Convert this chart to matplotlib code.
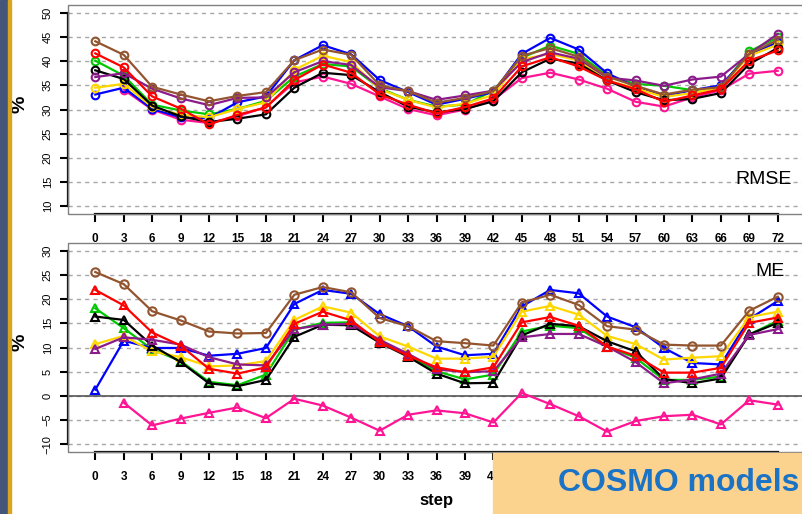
import matplotlib.pyplot as plt
import matplotlib.patches as mpatches
import numpy as np

plt.rcParams['font.family'] = ['Liberation Sans', 'DejaVu Sans']

steps = list(range(0, 73, 3))
nan = np.nan

# RMSE (%)
black_rmse = [38.1, 36.3, 30.8, 28.6, 27.4, 28.1, 29.0, 34.5, 37.6, 37.1, 33.6, 30.6, 29.4, 30.1, 31.7, 37.7, 40.5, 39.5, 36.0, 33.6, 31.9, 32.2, 33.4, 39.4, 42.7]
red_rmse = [41.6, 38.7, 32.7, 30.2, 26.9, 28.9, 30.4, 36.1, 39.3, 37.6, 33.1, 31.0, 29.2, 30.5, 32.3, 38.9, 40.8, 38.9, 36.0, 34.2, 31.6, 32.9, 34.2, 40.1, 42.2]
green_rmse = [40.1, 37.0, 31.0, 29.8, 29.0, 30.1, 31.8, 36.8, 39.4, 38.9, 34.4, 32.0, 30.6, 31.0, 33.9, 40.7, 43.2, 41.5, 37.0, 35.3, 34.9, 34.0, 34.6, 42.0, 44.9]
blue_rmse = [33.1, 34.5, 30.1, 28.4, 28.2, 31.5, 32.7, 40.2, 43.3, 41.4, 36.1, 33.6, 31.0, 32.2, 33.6, 41.5, 44.8, 42.4, 37.5, 34.7, 32.8, 34.0, 35.0, 41.3, 43.9]
yellow_rmse = [34.5, 35.3, 30.5, 28.9, 28.4, 30.1, 31.5, 38.2, 41.1, 39.8, 34.2, 32.0, 30.4, 31.2, 33.0, 40.4, 41.5, 40.1, 36.0, 34.4, 32.6, 33.4, 34.6, 41.1, 43.4]
purple_rmse = [36.7, 37.5, 34.3, 32.3, 30.9, 32.4, 32.5, 37.7, 40.0, 39.2, 34.6, 33.8, 32.0, 32.9, 33.9, 39.8, 41.8, 40.5, 36.6, 36.0, 34.9, 36.2, 36.8, 41.5, 45.6]
brown_rmse = [44.1, 41.3, 34.7, 33.1, 31.7, 32.8, 33.6, 40.2, 42.4, 41.3, 35.0, 33.8, 31.4, 32.4, 33.8, 41.1, 42.7, 40.9, 36.8, 34.9, 33.1, 34.1, 34.6, 41.5, 44.4]
pink_rmse = [nan, 34.1, 30.0, 27.9, 27.2, 28.6, 30.5, 35.6, 36.8, 35.3, 32.7, 30.1, 28.8, 30.0, 32.0, 36.5, 37.6, 36.2, 34.3, 31.6, 30.6, 32.5, 34.0, 37.4, 38.0]

# ME (%)
black_me = [16.4, 15.7, 10.4, 7.0, 2.6, 2.0, 3.3, 12.2, 14.7, 14.6, 11.0, 8.1, 4.6, 2.6, 2.7, 12.5, 14.9, 14.4, 11.3, 9.2, 3.5, 2.6, 3.6, 12.7, 15.1]
red_me = [21.9, 18.7, 13.1, 10.4, 5.6, 4.6, 5.9, 14.9, 17.4, 15.6, 11.1, 8.3, 5.9, 4.9, 5.9, 15.2, 16.3, 14.5, 10.2, 8.3, 4.8, 4.8, 5.8, 15.1, 16.2]
green_me = [18.1, 14.0, 9.6, 7.2, 2.9, 2.2, 4.4, 13.7, 15.1, 15.2, 11.3, 8.3, 5.1, 3.4, 4.4, 13.3, 14.5, 14.0, 10.2, 7.9, 3.3, 3.3, 4.0, 12.7, 15.5]
blue_me = [1.3, 11.4, 9.9, 9.9, 8.3, 8.7, 9.9, 19.0, 21.9, 21.1, 16.9, 14.4, 10.2, 8.4, 8.7, 18.5, 21.9, 21.2, 16.4, 14.2, 9.9, 6.8, 6.5, 15.9, 19.6]
yellow_me = [10.7, 12.4, 9.2, 8.0, 6.1, 6.3, 7.2, 15.7, 18.5, 17.2, 12.3, 10.2, 7.7, 7.7, 8.1, 17.4, 18.6, 16.8, 12.4, 10.7, 7.5, 7.9, 8.2, 16.3, 17.4]
purple_me = [9.7, 12.1, 11.6, 10.6, 8.0, 6.5, 6.3, 13.8, 14.7, 14.9, 11.6, 8.7, 5.5, 4.9, 5.1, 12.1, 12.8, 12.8, 10.2, 7.0, 2.6, 3.4, 4.6, 12.6, 13.8]
brown_me = [25.6, 23.1, 17.5, 15.6, 13.3, 12.9, 13.0, 20.9, 22.5, 21.4, 16.1, 14.4, 11.3, 10.9, 10.4, 19.3, 20.9, 18.8, 14.4, 13.7, 10.6, 10.4, 10.4, 17.6, 20.5]
pink_me = [nan, -1.4, -6.1, -4.7, -3.5, -2.4, -4.6, -0.6, -2.0, -4.5, -7.2, -3.9, -3.0, -3.6, -5.5, 0.6, -1.7, -4.2, -7.4, -5.2, -4.2, -3.9, -5.9, -0.9, -1.8]

colors = {'pink': '#ff1493', 'green': '#00c800', 'blue': '#0000ff', 'yellow': '#ffd700',
          'black': '#000000', 'purple': '#8b1a8b', 'brown': '#935530', 'red': '#ff0000'}

rmse = {'pink': pink_rmse, 'green': green_rmse, 'blue': blue_rmse, 'yellow': yellow_rmse,
        'black': black_rmse, 'purple': purple_rmse, 'brown': brown_rmse, 'red': red_rmse}
me = {'pink': pink_me, 'green': green_me, 'blue': blue_me, 'yellow': yellow_me,
      'black': black_me, 'purple': purple_me, 'brown': brown_me, 'red': red_me}

W, H = 802, 514
fig = plt.figure(figsize=(W / 100, H / 100), dpi=100)

# axes boxes in pixels (left, top, right, bottom)
ax1 = fig.add_axes([68 / W, 1 - 214 / H, (805 - 68) / W, (214 - 5) / H])
ax2 = fig.add_axes([68 / W, 1 - 452 / H, (805 - 68) / W, (452 - 243) / H])


def style(ax, ylo, yhi):
    ax.set_xlim(-2.88, 74.88)
    pad = (yhi - ylo) * 0.04
    ax.set_ylim(ylo - pad, yhi + pad)
    yt = list(range(ylo, yhi + 1, 5))
    ax.set_xticks(steps)
    ax.set_yticks(yt)
    for y in yt:
        ax.axhline(y, color='#a8a8a8', lw=1, ls=(0, (3, 3)), zorder=0)
    for s in ['top', 'right']:
        ax.spines[s].set_visible(False)
    ax.spines['left'].set_bounds(ylo, yhi)
    ax.spines['bottom'].set_bounds(0, 72)
    ax.spines['left'].set_linewidth(1.6)
    ax.spines['bottom'].set_linewidth(1.6)
    ax.add_patch(mpatches.Rectangle((0, 0), 1, 1, transform=ax.transAxes, fill=False,
                                    edgecolor='#808080', lw=1, clip_on=False, zorder=5))
    ax.tick_params(axis='both', direction='out', length=6, width=1.5)
    ax.tick_params(axis='x', pad=8, labelsize=8.5)
    ax.tick_params(axis='y', pad=5, labelsize=8, labelrotation=90)
    for lab in ax.get_yticklabels():
        lab.set_va('center')
    for lab in ax.get_xticklabels():
        lab.set_fontweight('bold')


style(ax1, 10, 50)
style(ax2, -10, 30)
ax2.axhline(0, color='#555555', lw=1.2, zorder=1)

# labels from 45 on are hidden under the caption box anyway
for lab, s in zip(ax2.get_xticklabels(), steps):
    if s >= 45:
        lab.set_visible(False)

for name, vals in rmse.items():
    ax1.plot(steps, vals, color=colors[name], lw=1.6, marker='o', ms=5.5,
             mfc='none', mew=1.5, zorder=3)

for name, vals in me.items():
    mk = 'o' if name == 'brown' else '^'
    ax2.plot(steps, vals, color=colors[name], lw=1.6, marker=mk, ms=6,
             mfc='none', mew=1.5, zorder=3)

ax1.text(792 / W, 1 - 180 / H, 'RMSE', transform=fig.transFigure, ha='right',
         va='center', fontsize=14)
ax2.text(785 / W, 1 - 272 / H, 'ME', transform=fig.transFigure, ha='right',
         va='center', fontsize=14)

fig.text(20 / W, 1 - 104 / H, '%', rotation=90, ha='center', va='center',
         fontsize=14, fontweight='bold')
fig.text(20 / W, 1 - 342 / H, '%', rotation=90, ha='center', va='center',
         fontsize=14, fontweight='bold')
fig.text(437 / W, 1 - 500 / H, 'step', ha='center', va='center',
         fontsize=12, fontweight='bold')

# slide decoration: left strip and caption box
fig.add_artist(mpatches.Rectangle((0, 0), 8 / W, 1, transform=fig.transFigure,
                                  color='#44557a', zorder=10))
fig.add_artist(mpatches.Rectangle((8 / W, 0), 3 / W, 1, transform=fig.transFigure,
                                  color='#d9a521', zorder=10))
fig.add_artist(mpatches.Rectangle((493 / W, 0), (W - 493) / W, (514 - 453) / H,
                                  transform=fig.transFigure, color='#fcd28f', zorder=10))
fig.text(558 / W, 1 - 483 / H, 'COSMO models', ha='left', va='center',
         fontsize=23, fontweight='bold', color='#1b73c6', zorder=11)

fig.savefig('out.png', dpi=100)
